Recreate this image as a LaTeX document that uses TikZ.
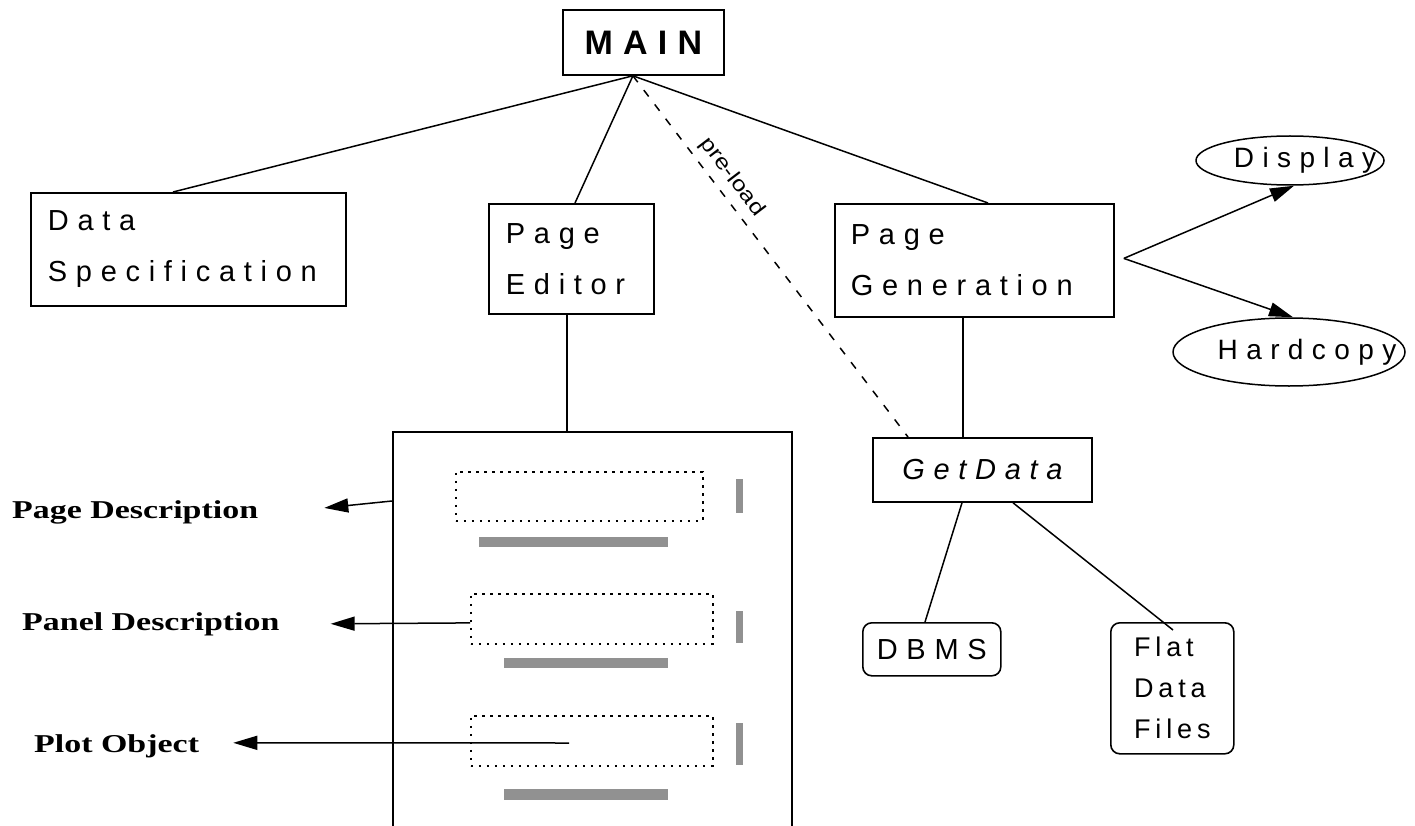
\documentclass[tikz,border=0pt]{standalone}
\usepackage{fontspec}
\usepackage{graphicx}
\usetikzlibrary{shapes.geometric,arrows.meta}
\setmainfont{Liberation Serif}
\newfontfamily\boxfont[LetterSpace=30]{Liberation Sans}
\newfontfamily\flatfont[LetterSpace=18]{Liberation Sans}
\newfontfamily\prefont{Liberation Sans}
\definecolor{bargray}{RGB}{145,145,145}
\tikzset{
  box/.style={draw, line width=1.8pt, rectangle, anchor=north west, inner sep=0pt},
  boxtext/.style={font=\boxfont\fontsize{29}{51}\selectfont},
  rbox/.style={draw, line width=1.6pt, rectangle, rounded corners=9pt, anchor=north west, inner sep=0pt},
  ell/.style={draw, line width=1.5pt, ellipse, inner xsep=-40pt, inner ysep=-8pt, font=\boxfont\fontsize{28}{34}\selectfont},
  dotbox/.style={draw, line width=1.8pt, dash pattern=on 2.5pt off 5.5pt, rectangle, anchor=north west, inner sep=0pt},
  lbl/.style={inner sep=0pt, anchor=base west, font=\bfseries\fontsize{25.7}{30}\selectfont},
  conn/.style={line width=1.5pt},
  dashconn/.style={line width=1.5pt, dash pattern=on 8pt off 10pt},
  arr/.style={line width=1.5pt, -{Triangle[length=24pt,width=14pt]}},
  bar/.style={fill=bargray}
}
\begin{document}
\begin{tikzpicture}[x=1pt,y=-1pt]
\useasboundingbox (0,0) rectangle (1415,826);

% top level boxes
\node[box, minimum width=161pt, minimum height=65pt, font=\boxfont\bfseries\fontsize{34}{40}\selectfont] (main) at (562,9) {MAIN};
\node[box, boxtext, text width=281pt, inner xsep=17pt, minimum height=113pt, align=left] (ds) at (30,192) {Data\\Specification};
\node[box, boxtext, text width=131pt, inner xsep=17pt, minimum height=110pt, align=left] (pe) at (488,203) {Page\\Editor};
\node[box, boxtext, text width=247pt, inner xsep=16pt, minimum height=113pt, align=left] (pg) at (834,203) {Page\\Generation};
\node[box, boxtext, minimum width=219pt, minimum height=64pt, font=\boxfont\itshape\fontsize{29}{34}\selectfont] (gd) at (872,437) {GetData};
\node[rbox, boxtext, minimum width=138pt, minimum height=53pt] (db) at (862,622) {DBMS};
\node[rbox, minimum width=123pt, minimum height=131pt, align=left, font=\flatfont\fontsize{27}{41}\selectfont] (ff) at (1110,622) {Flat\\Data\\Files};

% output ellipses
\node[ell, minimum width=188pt, minimum height=49pt] (disp) at (1290,160.5) {\hspace*{30pt}Display};
\node[ell, minimum width=232pt, minimum height=68pt] (hard) at (1289,352) {\hspace*{36pt}Hardcopy};

% page layout sketch
\node[box, minimum width=399pt, minimum height=430pt] (layout) at (392,431) {};
\node[dotbox, minimum width=247pt, minimum height=49pt] (db1) at (455,471) {};
\node[dotbox, minimum width=242pt, minimum height=50pt] (db2) at (470,593) {};
\node[dotbox, minimum width=242pt, minimum height=50pt] (db3) at (470,715) {};
\fill[bar] (736,479) rectangle (743,513);
\fill[bar] (479,537) rectangle (668,547);
\fill[bar] (736,611) rectangle (743,643);
\fill[bar] (504,658) rectangle (668,668);
\fill[bar] (736,723) rectangle (743,765);
\fill[bar] (504,789) rectangle (668,800);

% left labels
\node[lbl] (pdl) at (12,518) {\scalebox{1.32}[1]{Page Description}};
\node[lbl] (pnl) at (22,630) {\scalebox{1.32}[1]{Panel Description}};
\node[lbl] (pol) at (34,752) {\scalebox{1.32}[1]{Plot Object}};

% helper coordinates
\coordinate (mhub) at ([xshift=-10.5pt]main.south);
\coordinate (pebot) at ([xshift=-4.5pt]pe.south);
\coordinate (pgbot) at ([xshift=-11.5pt]pg.south);
\coordinate (fork) at ([xshift=9pt,yshift=2pt]pg.east);
\coordinate (plotpt) at (569,743);

% connectors from MAIN
\draw[conn] (mhub) -- ([xshift=143pt]ds.north west);
\draw[conn] (mhub) -- ([xshift=87pt]pe.north west);
\draw[conn] (mhub) -- ([xshift=154pt]pg.north west);
\draw[dashconn] (mhub) -- node[sloped, above=7pt, pos=0.31, inner sep=0pt, font=\prefont\fontsize{21}{24}\selectfont] (preload) {\scalebox{1.2}[1]{pre-load}} ([xshift=36pt]gd.north west);

% lower connectors
\draw[conn] (pebot) -- (pebot |- layout.north);
\draw[conn] (pgbot) -- (pgbot |- gd.north);
\draw[conn] ([xshift=90pt]gd.south west) -- ([xshift=63pt]db.north west);
\draw[conn] ([xshift=141pt]gd.south west) -- ([xshift=63pt,yshift=-8pt]ff.north west);

% outputs
\draw[arr] (fork) -- ([xshift=4pt]disp.south);
\draw[arr] (fork) -- ([xshift=4pt]hard.north);

% description arrows
\draw[arr] ([yshift=-70pt]layout.north west) -- ([xshift=66pt,yshift=4pt]pdl.east);
\draw[arr] ([yshift=-4pt]db2.west) -- ([xshift=51pt]pnl.east);
\draw[arr] (plotpt) -- ([xshift=34pt,yshift=3pt]pol.east);
\end{tikzpicture}
\end{document}
